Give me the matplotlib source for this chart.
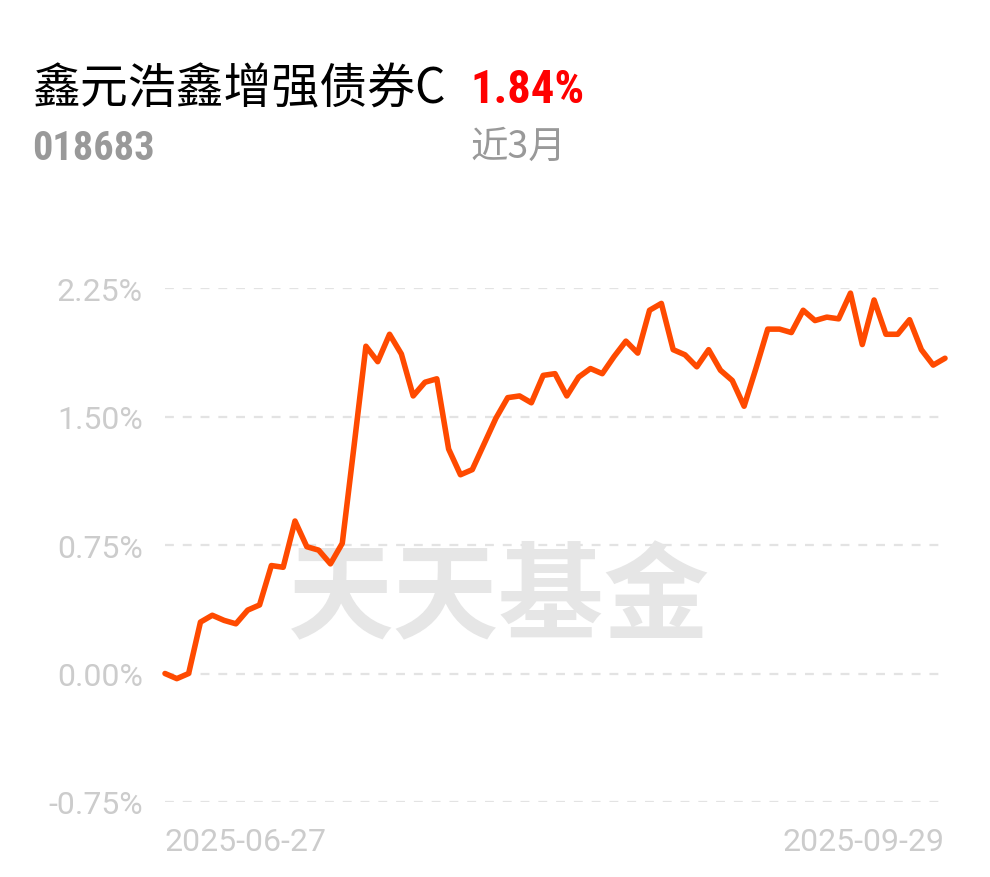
import matplotlib
matplotlib.use("Agg")
import matplotlib.pyplot as plt

# fund info
fund_name = "鑫元浩鑫增强债券C"
fund_code = "018683"
period_label = "近3月"
period_return = "1.84%"

# cumulative return (%) per trading day, 2025-06-27 .. 2025-09-29
returns = [
    0.00, -0.03, 0.00, 0.30, 0.34, 0.31, 0.29, 0.37, 0.40, 0.63, 0.62, 0.89,
    0.74, 0.72, 0.64, 0.76, 1.33, 1.91, 1.82, 1.98, 1.865, 1.62, 1.70,
    1.72, 1.31, 1.16, 1.19, 1.34, 1.49, 1.61, 1.62, 1.58, 1.74, 1.75, 1.62,
    1.73, 1.78, 1.75, 1.85, 1.94, 1.87, 2.12, 2.16, 1.89, 1.86, 1.79,
    1.89, 1.77, 1.71, 1.56, 1.78, 2.01, 2.01, 1.99, 2.12, 2.06, 2.08, 2.07,
    2.22, 1.92, 2.18, 1.98, 1.98, 2.065, 1.89, 1.80, 1.84,
]
x_labels = ["2025-06-27", "2025-09-29"]
y_ticks = [-0.75, 0.00, 0.75, 1.50, 2.25]

plt.rcParams["font.family"] = ["Roboto", "Noto Sans CJK SC", "DejaVu Sans"]
narrow = ["Roboto Condensed", "Barlow Semi Condensed", "Roboto"]
cjk = ["Noto Sans CJK SC", "DejaVu Sans"]

W, H = 990, 878
fig = plt.figure(figsize=(W / 100, H / 100), dpi=100)
fig.patch.set_facecolor("white")

ax = fig.add_axes([165 / W, 1 - 803 / H, 780 / W, (803 - 289) / H])
ax.set_xlim(0, len(returns) - 1)
ax.set_ylim(-0.75, 2.25)

for v in y_ticks:
    ax.axhline(v, color="#e3e3e3", lw=1.6, dashes=(4, 4), zorder=1)

ax.plot(range(len(returns)), returns, color="#ff4a00", lw=4.0,
        solid_joinstyle="round", solid_capstyle="round", zorder=3, clip_on=False)

# watermark
ax.text(0.428, 0.395, "天天基金", transform=ax.transAxes, ha="center", va="center",
        fontsize=76, fontweight="heavy", color="#e6e6e6", family=cjk, zorder=2)

ax.set_yticks(y_ticks)
ax.set_yticklabels([f"{v:.2f}%" for v in y_ticks])
ax.set_xticks([0, len(returns) - 1])
ax.set_xticklabels(x_labels)
xt = ax.get_xticklabels()
xt[0].set_horizontalalignment("left")
xt[1].set_horizontalalignment("right")
ax.tick_params(axis="y", length=0, pad=16, labelsize=23, labelcolor="#cccccc")
ax.tick_params(axis="x", length=0, pad=18, labelsize=23, labelcolor="#cccccc")
for s in ax.spines.values():
    s.set_visible(False)

# header
fig.text(32 / W, 1 - 103 / H, fund_name, fontsize=34.5, color="black",
         family=cjk, va="baseline")
fig.text(470 / W, 1 - 103 / H, period_return, fontsize=33.5, color="#ff0000",
         fontweight="bold", family=narrow, va="baseline")
fig.text(32 / W, 1 - 160 / H, fund_code, fontsize=29, color="#999999",
         fontweight="bold", family=narrow, va="baseline")
fig.text(470 / W, 1 - 158 / H, period_label, fontsize=27, color="#999999",
         family=cjk, va="baseline")

fig.savefig("out.png", dpi=100)
